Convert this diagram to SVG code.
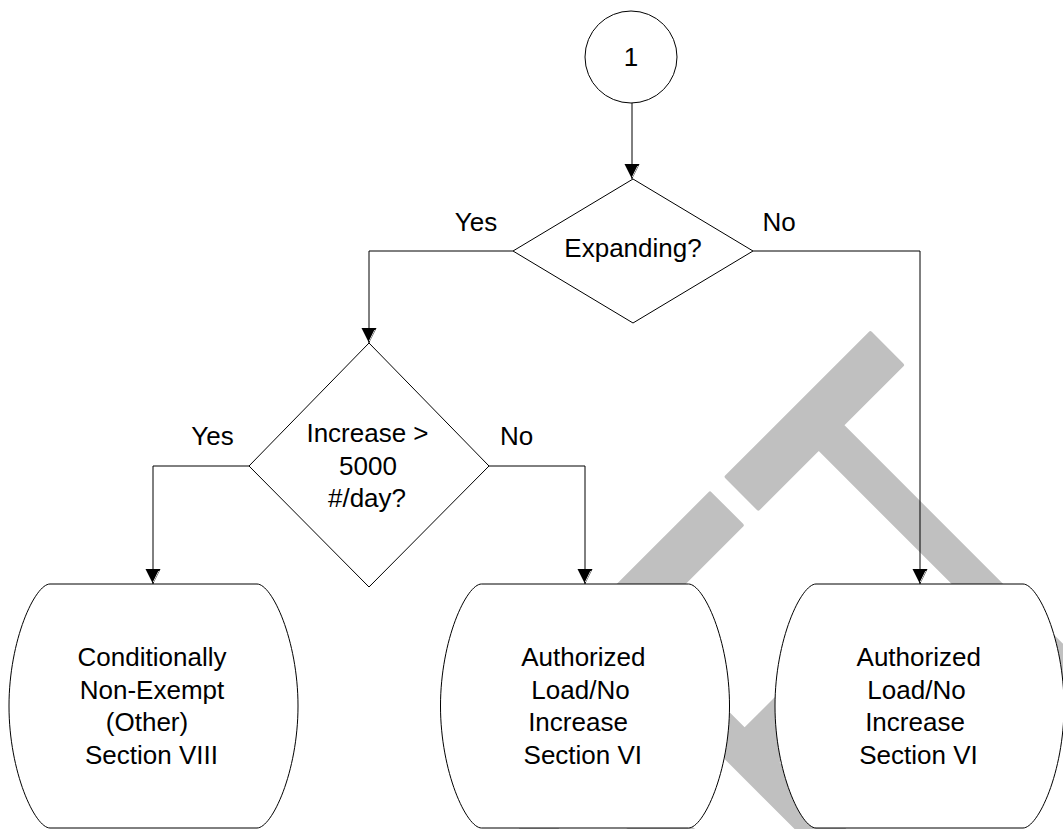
<svg xmlns="http://www.w3.org/2000/svg" width="1063" height="829" viewBox="0 0 1063 829">
<style>
.shape{fill:#fff;stroke:#000;stroke-width:1}
.lbl{font-family:"Liberation Sans",Arial,sans-serif;font-size:26px;fill:#000;text-anchor:middle}
.conn{fill:none;stroke:#000;stroke-width:1;marker-end:url(#arr)}
.wm{font-family:"Liberation Sans",Arial,sans-serif;font-size:361px;fill:#c0c0c0;stroke:#c0c0c0;stroke-width:4px;stroke-linejoin:round;vector-effect:non-scaling-stroke;font-kerning:none;text-anchor:end}
</style>
<defs>
<marker id="arr" markerUnits="userSpaceOnUse" markerWidth="16" markerHeight="16" refX="15" refY="7.5" orient="auto" overflow="visible">
<path d="M0,0 L15,7.5 L0,15 Z" fill="#000"/>
<path d="M2,1.8 L13,7.2" stroke="#fff" stroke-width="0.8"/>
</marker>
</defs>
<rect width="1063" height="829" fill="#fff"/>
<g id="watermark">
<text class="wm" transform="translate(1157.8,608.3) rotate(-45) scale(1,1.6)">DRAFT</text>
</g>
<g id="connectors">
<path class="conn" d="M632,103 V179"/>
<path class="conn" d="M513,251 H369 V343"/>
<path class="conn" d="M753,251 H920 V584"/>
<path class="conn" d="M249,466 H153 V584"/>
<path class="conn" d="M489,466 H585 V584"/>
</g>
<g id="start">
<circle class="shape" cx="631" cy="57" r="46"/>
<text class="lbl" x="631" y="66">1</text>
</g>
<g id="expanding">
<polygon class="shape" points="633,179 753,251 633,323 513,251"/>
<text class="lbl" x="633" y="257">Expanding?</text>
</g>
<g id="increase">
<polygon class="shape" points="369,343 489,466 369,587 249,466"/>
<text class="lbl" x="367.5" y="442">Increase &gt;</text>
<text class="lbl" x="368" y="475">5000</text>
<text class="lbl" x="367" y="507">#/day?</text>
</g>
<g id="labels">
<text class="lbl" x="476" y="231">Yes</text>
<text class="lbl" x="779" y="231">No</text>
<text class="lbl" x="212.5" y="445">Yes</text>
<text class="lbl" x="516.5" y="445">No</text>
</g>
<g id="cne" transform="translate(153.5,0)">
<path class="shape" d="M-103.5,584 H103.5 C118.5,584 144.5,640 144.5,706 C144.5,772 118.5,828 103.5,828 H-103.5 C-118.5,828 -144.5,772 -144.5,706 C-144.5,640 -118.5,584 -103.5,584 Z"/>
<text class="lbl" x="-1.5" y="666">Conditionally</text>
<text class="lbl" x="-1.5" y="698.5">Non-Exempt</text>
<text class="lbl" x="-6.5" y="731">(Other)</text>
<text class="lbl" x="-2" y="764">Section VIII</text>
</g>
<g id="auth1" transform="translate(585,0)">
<path class="shape" d="M-103.5,584 H103.5 C118.5,584 144.5,640 144.5,706 C144.5,772 118.5,828 103.5,828 H-103.5 C-118.5,828 -144.5,772 -144.5,706 C-144.5,640 -118.5,584 -103.5,584 Z"/>
<text class="lbl" x="-1.7" y="666">Authorized</text>
<text class="lbl" x="-4.5" y="698.5">Load/No</text>
<text class="lbl" x="-7" y="731">Increase</text>
<text class="lbl" x="-2.2" y="764">Section VI</text>
</g>
<g id="auth2" transform="translate(919.5,0)">
<path class="shape" d="M-103.5,584 H103.5 C118.5,584 144.5,640 144.5,706 C144.5,772 118.5,828 103.5,828 H-103.5 C-118.5,828 -144.5,772 -144.5,706 C-144.5,640 -118.5,584 -103.5,584 Z"/>
<text class="lbl" x="-0.8" y="666">Authorized</text>
<text class="lbl" x="-3" y="698.5">Load/No</text>
<text class="lbl" x="-4.5" y="731">Increase</text>
<text class="lbl" x="-1" y="764">Section VI</text>
</g>
</svg>
